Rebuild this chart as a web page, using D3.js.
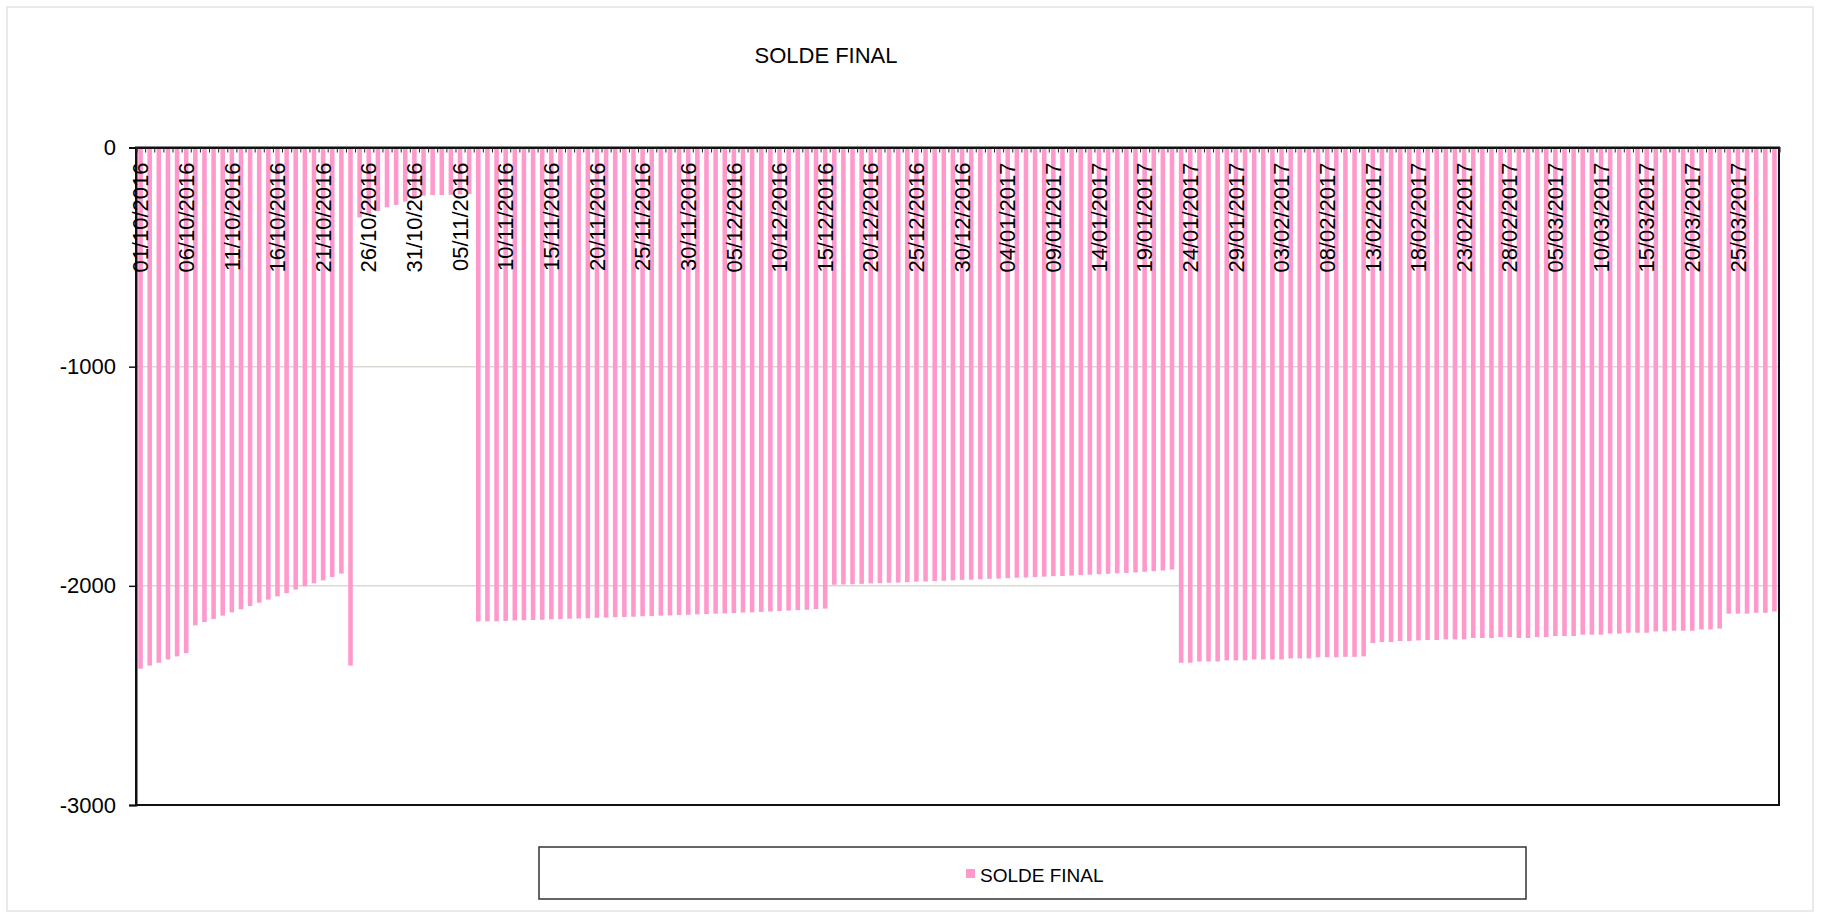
<!DOCTYPE html>
<html>
<head>
<meta charset="utf-8">
<script src="https://cdn.jsdelivr.net/npm/d3@7"></script>
<style>
  body { margin: 0; background: #fff; }
  text { font-family: Arial, "Liberation Sans", sans-serif; fill: #000; }
</style>
</head>
<body>
<div id="chart"></div>
<script>
const W = 1821, H = 919;
const title = "SOLDE FINAL";
const seriesName = "SOLDE FINAL";

// categories: one bar per day, 01/10/2016 -> 29/03/2017
const days = d3.utcDay.range(new Date(Date.UTC(2016, 9, 1)), new Date(Date.UTC(2017, 2, 30)));
const fmt = d3.utcFormat("%d/%m/%Y");
const categories = days.map(fmt);

// values, by stretch of days
const octStart = [-2378, -2364, -2351, -2336, -2322, -2307];
const octMid = [-2180, -2165, -2151, -2136, -2121, -2107, -2092, -2077, -2063, -2048,
  -2033, -2017, -2002, -1989, -1975, -1960, -1944];
const octDip = [-2364];
const lowRun = [-319, -305, -290, -273, -262, -247, -233, -220, -217, -217, -216, -214, -212];
const novDec = [-2163, -2162, -2162, -2160, -2158, -2157, -2156, -2155, -2153, -2152,
  -2150, -2149, -2148, -2146, -2145, -2143, -2142, -2141, -2139, -2138,
  -2136, -2135, -2133, -2132, -2130, -2129, -2127, -2126, -2124, -2122,
  -2121, -2119, -2117, -2115, -2113, -2111, -2109, -2106, -2104];
const decJan = [-1995, -1994, -1993, -1991, -1989, -1988, -1986, -1985, -1983, -1981,
  -1980, -1978, -1977, -1975, -1973, -1972, -1970, -1968, -1967, -1965,
  -1963, -1962, -1960, -1958, -1956, -1955, -1953, -1951, -1949, -1947,
  -1945, -1943, -1941, -1939, -1936, -1933, -1930, -1926];
const janFeb = [-2351, -2351, -2345, -2345, -2345, -2340, -2340, -2340, -2336, -2336,
  -2336, -2336, -2331, -2331, -2331, -2326, -2326, -2326, -2324, -2324, -2322];
const febMar = [-2261, -2256, -2256, -2252, -2252, -2249, -2247, -2247, -2244, -2244,
  -2244, -2238, -2238, -2238, -2234, -2234, -2238, -2238, -2234, -2234,
  -2229, -2229, -2229, -2223, -2223, -2223, -2218, -2218, -2214, -2214,
  -2214, -2208, -2208, -2205, -2205, -2205, -2199, -2199, -2195];
const marEnd = [-2127, -2127, -2127, -2123, -2123, -2117];

const values = [].concat(octStart, octMid, octDip, lowRun, novDec, decJan, janFeb, febMar, marEnd);
const yTicks = [0, -1000, -2000, -3000];
const labelEvery = 5;

const data = categories.map((c, i) => ({ cat: c, value: values[i] }));

const plot = { left: 136, right: 1779, top: 147.5, bottom: 805 };

const svg = d3.select("#chart").append("svg")
  .attr("width", W)
  .attr("height", H);

// outer chart frame
svg.append("rect")
  .attr("x", 7).attr("y", 7)
  .attr("width", W - 15).attr("height", H - 15)
  .attr("fill", "#fff")
  .attr("stroke", "#e3e3e3")
  .attr("stroke-width", 1.5);

const x = d3.scaleBand()
  .domain(categories)
  .range([plot.left, plot.right])
  .paddingInner(0.5)
  .paddingOuter(0.25);

const y = d3.scaleLinear()
  .domain([0, -3000])
  .range([plot.top, plot.bottom]);

// gridlines
svg.append("g")
  .selectAll("line")
  .data(yTicks.filter(t => t !== 0 && t !== -3000))
  .enter()
  .append("line")
  .attr("x1", plot.left).attr("x2", plot.right)
  .attr("y1", d => y(d)).attr("y2", d => y(d))
  .attr("stroke", "#d9d9d2")
  .attr("stroke-width", 1.5);

// bars
svg.append("g")
  .selectAll("rect")
  .data(data)
  .enter()
  .append("rect")
  .attr("x", d => x(d.cat))
  .attr("width", x.bandwidth())
  .attr("y", y(0))
  .attr("height", d => y(d.value) - y(0))
  .attr("fill", "#ff99cc");

// plot border
svg.append("rect")
  .attr("x", plot.left).attr("y", plot.top)
  .attr("width", plot.right - plot.left)
  .attr("height", plot.bottom - plot.top)
  .attr("fill", "none")
  .attr("stroke", "#111")
  .attr("stroke-width", 2);

// y axis
const yAxis = svg.append("g")
  .attr("transform", `translate(${plot.left},0)`)
  .call(d3.axisLeft(y).tickValues(yTicks).tickSize(7).tickPadding(13).tickFormat(d3.format("d")));
yAxis.select(".domain").attr("stroke", "#111").attr("stroke-width", 2);
yAxis.selectAll(".tick line").attr("stroke", "#111").attr("stroke-width", 1.5);
yAxis.selectAll("text")
  .style("font-size", "22px")
  .attr("fill", "#000")
  .text(d => d === 0 ? "0" : String(d).replace("\u2212", "-"));

// category ticks on the zero line (between days)
const xIdx = d3.scaleLinear().domain([0, categories.length]).range([plot.left, plot.right]);
const xAxis = svg.append("g")
  .attr("transform", `translate(0,${plot.top})`)
  .call(d3.axisBottom(xIdx).tickValues(d3.range(categories.length + 1)).tickSize(5).tickFormat(""));
xAxis.select(".domain").attr("stroke", "#111").attr("stroke-width", 2);
xAxis.selectAll(".tick line").attr("stroke", "#222").attr("stroke-width", 1);

// rotated category labels
svg.append("g")
  .selectAll("text")
  .data(categories.filter((c, i) => i % labelEvery === 0))
  .enter()
  .append("text")
  .attr("transform", d => `translate(${x(d) + x.bandwidth() / 2},${plot.top + 15}) rotate(-90)`)
  .attr("text-anchor", "end")
  .attr("dy", "0.35em")
  .style("font-size", "22px")
  .text(d => d);

// title
svg.append("text")
  .attr("x", 826).attr("y", 63)
  .attr("text-anchor", "middle")
  .style("font-size", "22px")
  .text(title);

// legend
const legend = svg.append("g");
legend.append("rect")
  .attr("x", 539).attr("y", 847)
  .attr("width", 987).attr("height", 52)
  .attr("fill", "#fff")
  .attr("stroke", "#333")
  .attr("stroke-width", 1.5);
legend.append("rect")
  .attr("x", 966).attr("y", 869)
  .attr("width", 9).attr("height", 9)
  .attr("fill", "#ff99cc");
legend.append("text")
  .attr("x", 980).attr("y", 882)
  .style("font-size", "19px")
  .text(seriesName);
</script>
</body>
</html>
